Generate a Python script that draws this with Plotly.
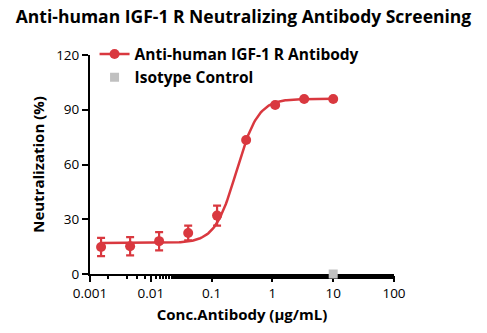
import numpy as np
import plotly.graph_objects as go

# Antibody concentrations (µg/mL), 3-fold serial dilution
conc = [0.00152, 0.00457, 0.0137, 0.0412, 0.123, 0.370, 1.11, 3.33, 10.0]
neutralization = [14.8, 15.2, 18.0, 22.5, 32.0, 73.4, 92.6, 95.9, 95.9]
err = [5.0, 5.0, 5.0, 4.0, 5.5, 0, 0, 0, 0]

# Isotype control
iso_conc = [10.0]
iso_neut = [0.0]

# Four-parameter logistic fit parameters
fit_bottom, fit_top, fit_ec50, fit_hill = 17.0, 96.0, 0.257, 2.46

x_ticks = [0.001, 0.01, 0.1, 1, 10, 100]
x_tick_text = ["0.001", "0.01", "0.1", "1", "10", "100"]
y_ticks = [0, 30, 60, 90, 120]

red = "#d9383f"
grey = "#c0c0c0"

xs = np.logspace(np.log10(conc[0]), np.log10(conc[-1]), 200)
ys = fit_bottom + (fit_top - fit_bottom) / (1 + (fit_ec50 / xs) ** fit_hill)

fig = go.Figure()
# fitted dose-response curve
fig.add_trace(go.Scatter(x=xs, y=ys, mode="lines", line=dict(color=red, width=2.5),
                         showlegend=False, hoverinfo="skip"))
# measured points with error bars
fig.add_trace(go.Scatter(
    x=conc, y=neutralization, mode="markers", showlegend=False,
    marker=dict(color=red, size=10),
    error_y=dict(type="data", array=err, color=red, thickness=2.2, width=4),
    cliponaxis=False,
))
# legend entry (line + marker)
fig.add_trace(go.Scatter(x=[None], y=[None], mode="lines+markers",
                         name="<b>Anti-human IGF-1 R Antibody</b>",
                         line=dict(color=red, width=2.5), marker=dict(color=red, size=10)))
fig.add_trace(go.Scatter(x=iso_conc, y=iso_neut, mode="markers", name="<b>Isotype Control</b>",
                         marker=dict(color=grey, size=9, symbol="square"), cliponaxis=False))

fig.update_layout(
    width=487, height=333,
    margin=dict(l=90, r=93, t=55, b=59),
    paper_bgcolor="white", plot_bgcolor="white",
    font=dict(family="Open Sans", color="black"),
    title=dict(text="<b>Anti-human IGF-1 R Neutralizing Antibody Screening</b>",
               x=0.5, xanchor="center", y=0.95, yanchor="middle",
               font=dict(size=17.5, family="Open Sans")),
    legend=dict(x=0.015, y=1.08, xanchor="left", yanchor="top", bgcolor="rgba(0,0,0,0)",
                font=dict(size=15.5, family="Open Sans"), itemwidth=30, tracegroupgap=2),
)
fig.update_xaxes(
    type="log", range=[-3, 2], tickvals=x_ticks, ticktext=x_tick_text, automargin=False,
    showline=True, linecolor="black", linewidth=2, ticks="outside", ticklen=6, tickwidth=2,
    tickcolor="black", showgrid=False, zeroline=False, layer="below traces",
    minor=dict(ticks="outside", ticklen=3, tickwidth=1.5, tickcolor="black", showgrid=False),
    tickfont=dict(size=13.5),
    title=dict(text="<b>Conc.Antibody (µg/mL)</b>", font=dict(size=15), standoff=8),
)
fig.update_yaxes(
    range=[0, 120], tickvals=y_ticks, automargin=False,
    showline=True, linecolor="black", linewidth=2, ticks="outside", ticklen=6, tickwidth=2,
    tickcolor="black", showgrid=False, zeroline=False, layer="below traces",
    tickfont=dict(size=13.5),
    title=dict(text="<b>Neutralization (%)</b>", font=dict(size=15), standoff=8),
)

fig.write_html("out.html")
